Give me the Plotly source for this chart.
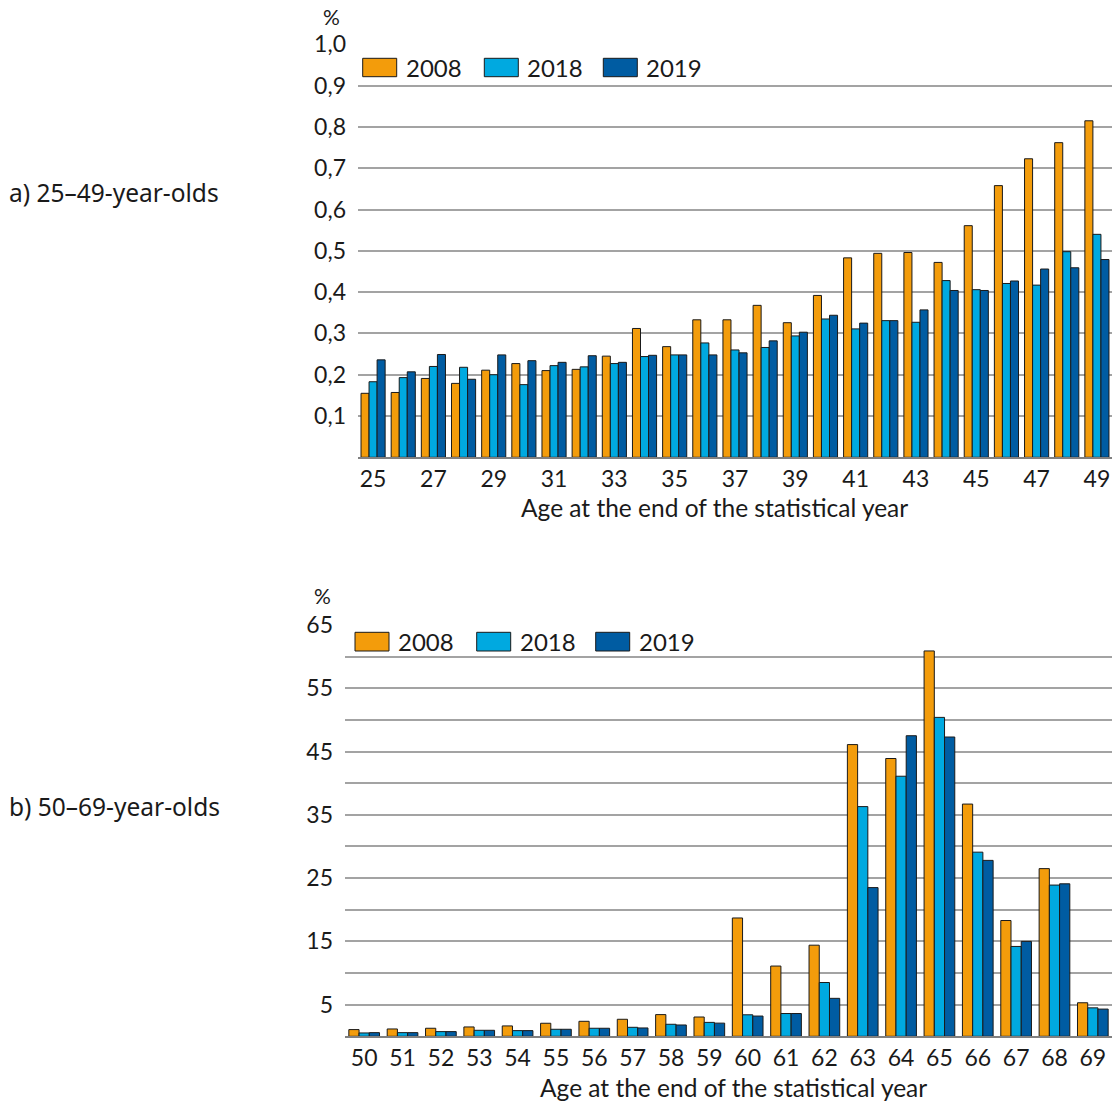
import plotly.graph_objects as go

W, H = 1112, 1101

# ---- data -------------------------------------------------------------
years = ["2008", "2018", "2019"]
colors = ["#F39C0B", "#00A9E0", "#005CA2"]

ages_a = [str(a) for a in range(25, 50)]
a_2008 = [0.155, 0.157, 0.191, 0.179, 0.211, 0.227, 0.210, 0.213, 0.245, 0.312,
          0.268, 0.333, 0.333, 0.368, 0.326, 0.392, 0.483, 0.494, 0.496, 0.472,
          0.561, 0.658, 0.723, 0.762, 0.815]
a_2018 = [0.183, 0.193, 0.220, 0.218, 0.200, 0.176, 0.222, 0.219, 0.227, 0.244,
          0.248, 0.277, 0.260, 0.266, 0.294, 0.335, 0.311, 0.331, 0.327, 0.428,
          0.406, 0.421, 0.417, 0.498, 0.540]
a_2019 = [0.236, 0.207, 0.249, 0.189, 0.248, 0.234, 0.230, 0.246, 0.230, 0.247,
          0.248, 0.248, 0.253, 0.282, 0.303, 0.344, 0.325, 0.331, 0.357, 0.404,
          0.404, 0.427, 0.456, 0.459, 0.479]

ages_b = [str(a) for a in range(50, 70)]
b_2008 = [1.06, 1.16, 1.27, 1.48, 1.64, 2.06, 2.37, 2.69, 3.43, 3.05,
          18.7, 11.1, 14.4, 46.1, 43.9, 60.9, 36.7, 18.3, 26.5, 5.3]
b_2018 = [0.53, 0.58, 0.74, 0.95, 0.90, 1.11, 1.27, 1.42, 1.90, 2.2,
          3.4, 3.6, 8.5, 36.3, 41.1, 50.4, 29.1, 14.2, 23.9, 4.5]
b_2019 = [0.58, 0.58, 0.74, 0.95, 0.90, 1.11, 1.27, 1.32, 1.79, 2.08,
          3.2, 3.6, 6.0, 23.5, 47.5, 47.3, 27.8, 15.0, 24.1, 4.3]

a_ytick_vals = [0.1, 0.2, 0.3, 0.4, 0.5, 0.6, 0.7, 0.8, 0.9, 1.0]
a_ytick_text = ["0,1", "0,2", "0,3", "0,4", "0,5", "0,6", "0,7", "0,8", "0,9", "1,0"]
a_xtick_text = [a if (int(a) - 25) % 2 == 0 else "" for a in ages_a]

b_ytick_vals = list(range(5, 70, 5))
b_ytick_text = [str(v) if v % 10 == 5 else "" for v in b_ytick_vals]

x_title = "Age at the end of the statistical year"
panel_a = "a) 25\u201349-year-olds"
panel_b = "b) 50\u201369-year-olds"

# ---- helpers ----------------------------------------------------------
def px(x):
    return x / W

def py(y):
    return 1 - y / H

FONT = "Lato, Carlito, Calibri, sans-serif"
GRID = "#A3A3A3"
INK = "#1a1a1a"

fig = go.Figure()

for name, col, vals in zip(years, colors, [a_2008, a_2018, a_2019]):
    fig.add_trace(go.Bar(x=ages_a, y=vals, name=name, marker_color=col,
                         marker_line=dict(color=INK, width=1),
                         xaxis="x", yaxis="y", showlegend=False))
for name, col, vals in zip(years, colors, [b_2008, b_2018, b_2019]):
    fig.add_trace(go.Bar(x=ages_b, y=vals, name=name, marker_color=col,
                         marker_line=dict(color=INK, width=1),
                         xaxis="x2", yaxis="y2", showlegend=False))

axis_font = dict(family=FONT, size=23, color=INK)

fig.update_layout(
    width=W, height=H,
    margin=dict(l=0, r=0, t=0, b=0, autoexpand=False),
    paper_bgcolor="white", plot_bgcolor="white",
    barmode="group", bargap=0.2, bargroupgap=0,
    font=axis_font,
    xaxis=dict(domain=[px(358), 1], type="category", range=[-0.5, 24.5],
               tickvals=ages_a, ticktext=a_xtick_text, tickfont=axis_font,
               showline=True, linecolor="#808080", linewidth=1.5,
               showgrid=False, ticks="", anchor="y", ticklabelstandoff=0,
               automargin=False),
    yaxis=dict(domain=[py(457.3), py(44.4)], range=[0, 1.0],
               tickvals=a_ytick_vals, ticktext=a_ytick_text, tickfont=axis_font,
               showgrid=True, gridcolor=GRID, gridwidth=1.5, zeroline=False,
               ticks="", ticklabelstandoff=11, anchor="x", automargin=False),
    xaxis2=dict(domain=[px(345), 1], type="category", range=[-0.5, 19.5],
                tickfont=axis_font,
                showline=True, linecolor="#808080", linewidth=1.5,
                showgrid=False, ticks="", anchor="y2", ticklabelstandoff=0,
                automargin=False),
    yaxis2=dict(domain=[py(1036.3), py(625)], range=[0, 65],
                tickvals=b_ytick_vals, ticktext=b_ytick_text, tickfont=axis_font,
                showgrid=True, gridcolor=GRID, gridwidth=1.5, zeroline=False,
                ticks="", ticklabelstandoff=11, anchor="x2", automargin=False),
)

annotations = []
shapes = []


def note(text, x, y, size, family=FONT, xanchor="center"):
    annotations.append(dict(text=text, x=px(x), y=py(y), xref="paper", yref="paper",
                            xanchor=xanchor, yanchor="middle", showarrow=False,
                            font=dict(family=family, size=size, color=INK)))


# axis titles, unit labels and panel captions
note(x_title, 714, 507, 24.5)
note(x_title, 733, 1087, 24.5)
note("%", 331, 16.5, 21)
note("%", 322, 595, 21)
CAP = "Noto Sans, Open Sans, sans-serif"
note(panel_a, 7, 192, 24.5, CAP, "left")
note(panel_b, 7, 806, 24.5, CAP, "left")


# legend keys for each panel
def legend(x_starts, y_top, y_bot):
    for name, col, x0 in zip(years, colors, x_starts):
        shapes.append(dict(type="rect", xref="paper", yref="paper",
                           x0=px(x0), x1=px(x0 + 34), y0=py(y_bot), y1=py(y_top),
                           fillcolor=col, line=dict(color=INK, width=1)))
        note(name, x0 + 41, (y_top + y_bot) / 2, 24, FONT, "left")


legend([362.7, 484.3, 603.3], 58.3, 76.7)
legend([355, 476.7, 595.7], 632.3, 651)

fig.update_layout(annotations=annotations, shapes=shapes)

fig.write_html("out.html")
